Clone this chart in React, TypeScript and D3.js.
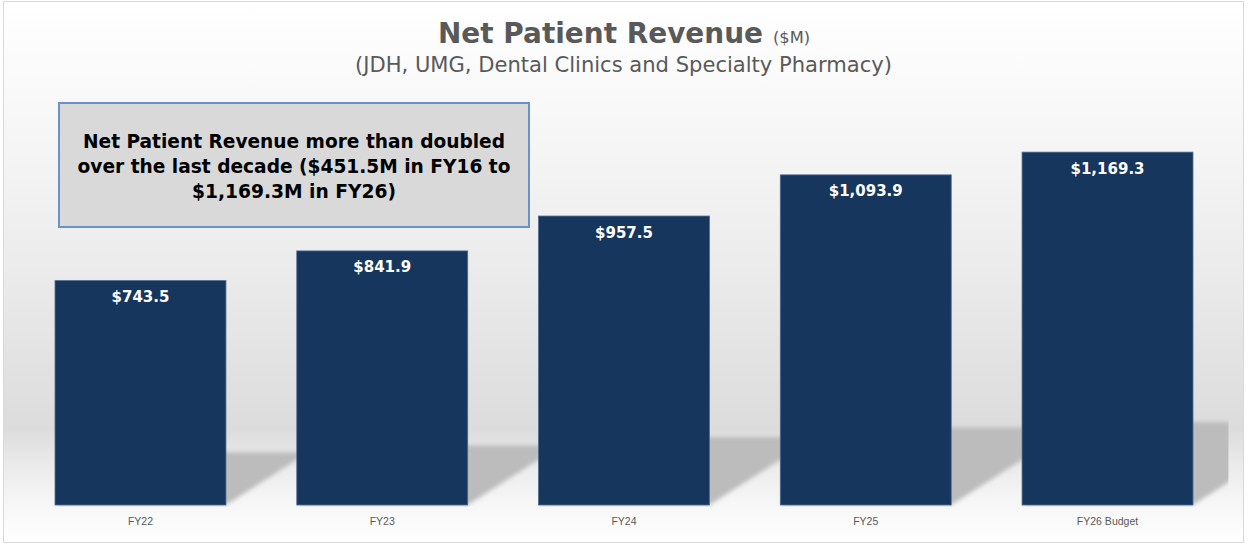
import React from "react";
import * as d3 from "d3";

const categories = ["FY22", "FY23", "FY24", "FY25", "FY26 Budget"];
const values = [743.5, 841.9, 957.5, 1093.9, 1169.3];
const valueLabels = ["$743.5", "$841.9", "$957.5", "$1,093.9", "$1,169.3"];
const titleMain = "Net Patient Revenue";
const titleUnit = "($M)";
const subtitle = "(JDH, UMG, Dental Clinics and Specialty Pharmacy)";
const noteLines = [
  "Net Patient Revenue more than doubled",
  "over the last decade ($451.5M in FY16 to",
  "$1,169.3M in FY26)",
];
const noteWidths = [422, 433, 204];

const W = 1248;
const H = 544;
const plotLeft = 19.6;
const plotRight = 1228.4;
const base = 505;
const plotTop = 82.5;

export default function App() {
  const x = d3
    .scaleBand<string>()
    .domain(categories)
    .range([plotLeft, plotRight])
    .paddingInner(0.293)
    .paddingOuter(0.1465);
  const y = d3.scaleLinear().domain([0, 1400]).range([base, plotTop]);
  const bw = x.bandwidth();
  const shadowRatio = 0.235;
  const slope = 0.64;

  return (
    <svg
      width={W}
      height={H}
      style={{ position: "absolute", left: 0, top: 0 }}
      fontFamily="'DejaVu Sans', Verdana, sans-serif"
    >
      <defs>
        <linearGradient id="bg" x1="0" y1="0" x2="0" y2="1">
          <stop offset="0" stopColor="#ffffff" />
          <stop offset="0.2" stopColor="#f8f8f8" />
          <stop offset="0.5" stopColor="#ebebeb" />
          <stop offset="0.79" stopColor="#dcdcdc" />
          <stop offset="0.86" stopColor="#ebebeb" />
          <stop offset="0.93" stopColor="#f7f7f7" />
          <stop offset="1" stopColor="#ffffff" />
        </linearGradient>
        <filter id="blur" x="-0.2" y="-0.2" width="1.4" height="1.4">
          <feGaussianBlur stdDeviation="2" />
        </filter>
        <clipPath id="plotclip">
          <rect x={plotLeft} y={0} width={plotRight - plotLeft} height={base + 2} />
        </clipPath>
      </defs>
      <rect x={0} y={0} width={W} height={H} fill="#ffffff" />
      <rect x={3.5} y={1.5} width={1240} height={541} fill="url(#bg)" stroke="#d9d9d9" strokeWidth={1} />

      {/* shadows */}
      <g clipPath="url(#plotclip)">
        <g filter="url(#blur)">
          {categories.map((c, i) => {
            const x0 = x(c)!;
            const x1 = x0 + bw;
            const top = y(values[i]);
            const sh = (base - top) * shadowRatio;
            const dx = sh / slope;
            const pts = [
              [x0, base],
              [x1, base],
              [x1 + dx, base - sh],
              [x0 + dx, base - sh],
            ]
              .map((p) => p.join(","))
              .join(" ");
            return <polygon key={c} points={pts} fill="#bcbcbc" />;
          })}
        </g>
      </g>

      {/* bars */}
      {categories.map((c, i) => (
        <rect
          key={c}
          x={x(c)!}
          y={y(values[i])}
          width={bw}
          height={base - y(values[i])}
          fill="#17365d"
          stroke="#4c6a90"
          strokeWidth={0.8}
        />
      ))}

      {/* value labels */}
      {categories.map((c, i) => (
        <text
          key={c}
          x={x(c)! + bw / 2}
          y={y(values[i]) + 21.5}
          textAnchor="middle"
          fill="#ffffff"
          fontWeight="bold"
          fontSize={15}
        >
          {valueLabels[i]}
        </text>
      ))}

      {/* x labels */}
      {categories.map((c) => (
        <text
          key={c}
          x={x(c)! + bw / 2}
          y={525}
          textAnchor="middle"
          fill="#595959"
          fontSize={10.5}
          fontFamily="'Liberation Sans Narrow', 'Liberation Sans', Arial, sans-serif"
        >
          {c}
        </text>
      ))}

      {/* title */}
      <text x={438} y={43} fill="#595959" fontWeight="bold" fontSize={28} textLength={325} lengthAdjust="spacingAndGlyphs">
        {titleMain}
      </text>
      <text x={773} y={43} fill="#595959" fontSize={15} textLength={37} lengthAdjust="spacingAndGlyphs">
        {titleUnit}
      </text>
      <text x={355} y={72} fill="#595959" fontSize={21} textLength={537} lengthAdjust="spacingAndGlyphs">
        {subtitle}
      </text>

      {/* annotation */}
      <rect x={59} y={103} width={470} height={124} fill="#d9d9d9" stroke="#6a92c8" strokeWidth={2} />
      {noteLines.map((t, i) => (
        <text
          key={i}
          x={294}
          y={148 + i * 25}
          textAnchor="middle"
          fill="#000000"
          fontWeight="bold"
          fontSize={20}
          textLength={noteWidths[i]}
          lengthAdjust="spacingAndGlyphs"
        >
          {t}
        </text>
      ))}
    </svg>
  );
}
